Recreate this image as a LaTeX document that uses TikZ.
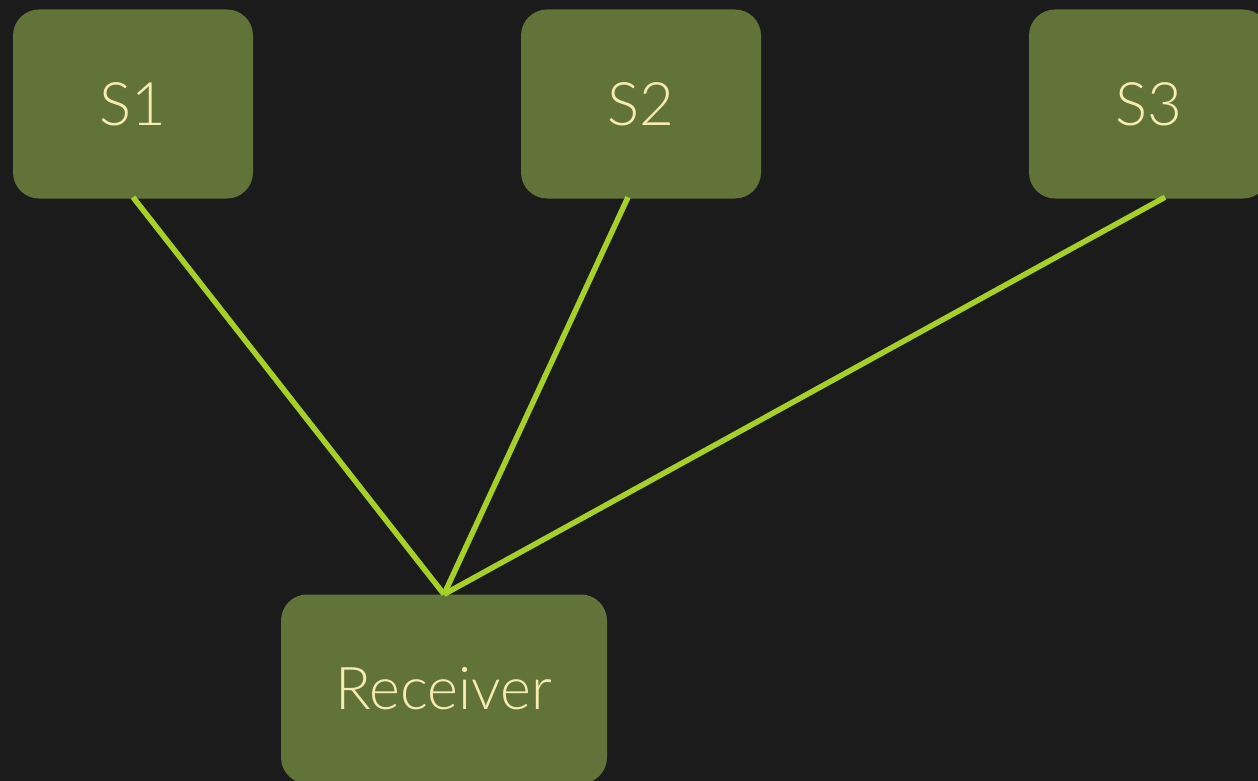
\documentclass[tikz,border=0pt]{standalone}
\usepackage{fontspec}
\setmainfont{Lato}[UprightFont=* Light]
\usetikzlibrary{calc}
\definecolor{bg}{HTML}{1C1B1C}
\definecolor{boxfill}{HTML}{627339}
\definecolor{txt}{HTML}{F8EBB0}
\definecolor{wire}{HTML}{A5D027}
\begin{document}
\begin{tikzpicture}[x=1pt,y=-1pt,
  box/.style={fill=boxfill, rounded corners=26pt, minimum width=240pt, minimum height=189pt, inner sep=0pt, text=txt, font=\fontsize{60}{66}\selectfont},
  wirestyle/.style={draw=wire, line width=5.5pt}]
\fill[bg] (0,0) rectangle (1258,781);
\useasboundingbox (0,0) rectangle (1258,781);
\node[box] (S1) at (133,104) {S1};
\node[box] (S2) at (641,104) {S2};
\node[box] (S3) at (1149,104) {S3};
\node[box, minimum width=326pt, font=\fontsize{59}{64}\selectfont] (R) at (444,689) {Receiver};
\draw[wirestyle] ($(S1.south)+(0,-1.5)$) -- (R.north);
\draw[wirestyle] ($(S2.south)+(-13,-1.5)$) -- (R.north);
\draw[wirestyle] ($(S3.south)+(16,-1.5)$) -- (R.north);
\end{tikzpicture}
\end{document}
